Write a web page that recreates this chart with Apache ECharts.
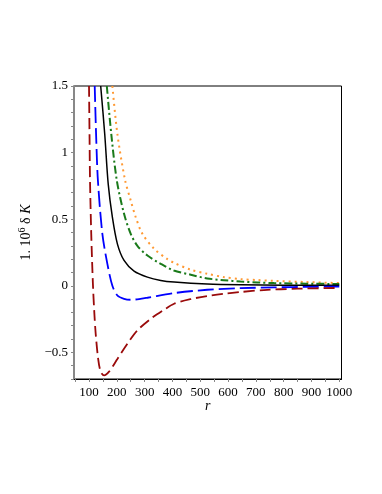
<!DOCTYPE html>
<html>
<head>
<meta charset="utf-8">
<script src="https://cdn.jsdelivr.net/npm/echarts@6/dist/echarts.min.js"></script>
<style>
html,body{margin:0;padding:0;background:#fff;}
#c{width:382px;height:494px;}
</style>
</head>
<body>
<div id="c"></div>
<script>
// x: r, y: 1e6 * delta K
const darkRed = [[100,1.5],[102,1.1],[103.6,0.79],[108,0.39],[114,0.015],[119,-0.2],[124,-0.36],[133,-0.55],[142,-0.645],[154,-0.673],[172,-0.645],[202,-0.55],[238,-0.435],[274,-0.335],[322,-0.248],[370,-0.18],[406,-0.135],[466,-0.10],[525,-0.077],[585,-0.06],[645,-0.047],[729,-0.032],[850,-0.022],[1000,-0.016]];
const blueCurve = [[120.5,1.5],[126,1.1],[132,0.79],[148,0.39],[166,0.165],[184,0.0],[202,-0.073],[226,-0.098],[250,-0.105],[280,-0.1],[310,-0.09],[406,-0.055],[525,-0.03],[645,-0.018],[765,-0.012],[900,-0.008],[1000,-0.006]];
const blackCurve = [[142,1.5],[156.5,1.14],[169,0.765],[184,0.515],[202,0.315],[226,0.19],[262,0.11],[310,0.065],[358,0.04],[406,0.028],[525,0.013],[645,0.007],[800,0.004],[1000,0.003]];
const greenCurve = [[164,1.5],[180,1.14],[200,0.79],[226,0.54],[250,0.39],[274,0.30],[310,0.227],[358,0.165],[405,0.115],[466,0.083],[525,0.055],[585,0.042],[645,0.032],[705,0.025],[765,0.02],[880,0.016],[1000,0.013]];
const orangeCurve = [[184,1.5],[202,1.14],[229,0.80],[250,0.64],[268,0.515],[292,0.39],[334,0.278],[382,0.2],[406,0.172],[466,0.12],[525,0.09],[585,0.065],[645,0.05],[705,0.043],[765,0.037],[880,0.028],[1000,0.02]];

const xLabelValues = [100,200,300,400,500,600,700,800,900,1000];
const xTickValues = [50,100,150,200,250,300,350,400,450,500,550,600,650,700,750,800,850,900,950,1000];
const yLabelValues = [-0.5,0,0.5,1,1.5];
const yTickValues = [-0.7,-0.6,-0.5,-0.4,-0.3,-0.2,-0.1,0,0.1,0.2,0.3,0.4,0.5,0.6,0.7,0.8,0.9,1.0,1.1,1.2,1.3,1.4,1.5];

const FONT = 'Liberation Serif';
const chart = echarts.init(document.getElementById('c'), null, {renderer:'canvas'});

function mk(data, color, type, width){
  return {
    type:'line', data:data, showSymbol:false, symbol:'none',
    smooth:0.3, clip:true,
    lineStyle:{color:color, width:width, type:type, cap:'butt'},
    animation:false
  };
}

chart.setOption({
  animation:false,
  backgroundColor:'#fff',
  grid:{left:74, top:86, right:40.5, bottom:115, show:true, borderColor:'#000', borderWidth:1, containLabel:false},
  xAxis:{
    type:'value', min:46, max:1008,
    name:'r', nameLocation:'middle', nameGap:20, nameMoveOverlap:false,
    nameTextStyle:{fontFamily:FONT, fontSize:14, fontStyle:'italic', color:'#000'},
    axisLine:{show:true, onZero:false, lineStyle:{color:'#000', width:1}},
    axisTick:{show:true, customValues:xTickValues, length:3, lineStyle:{color:'#888'}},
    axisLabel:{customValues:xLabelValues, fontFamily:FONT, fontSize:13, color:'#000', margin:7,
      formatter:function(v){ return String(v); }},
    splitLine:{show:false}
  },
  yAxis:{
    type:'value', min:-0.7, max:1.5,
    name:'{n|1. 10}{s|6}{n| δ }{i|K}', nameLocation:'middle', nameGap:36,
    nameTextStyle:{fontFamily:FONT, fontSize:14, color:'#000',
      rich:{n:{fontFamily:FONT,fontSize:14,color:'#000'}, s:{fontFamily:FONT,fontSize:10,color:'#000',verticalAlign:'top', padding:[0,0,8,0]}, i:{fontFamily:FONT,fontSize:14,fontStyle:'italic',color:'#000'}}},
    axisLine:{show:true, onZero:false, lineStyle:{color:'#888', width:2}},
    axisTick:{show:true, customValues:yTickValues, length:3, lineStyle:{color:'#888'}},
    axisLabel:{customValues:yLabelValues, fontFamily:FONT, fontSize:13, color:'#000', margin:6,
      formatter:function(v){ return v<0 ? '\u2212'+Math.abs(v) : String(v); }},
    splitLine:{show:false}
  },
  series:[
    mk(orangeCurve,'#ff9933',[2,4],2),
    mk(greenCurve,'#1a7a1a',[8,3,2,3],2),
    mk(blackCurve,'#000000','solid',1.5),
    mk(blueCurve,'#0000ff',[16,5],1.8),
    mk(darkRed,'#9a0a0a',[11,5],1.8)
  ]
});
</script>
</body>
</html>
